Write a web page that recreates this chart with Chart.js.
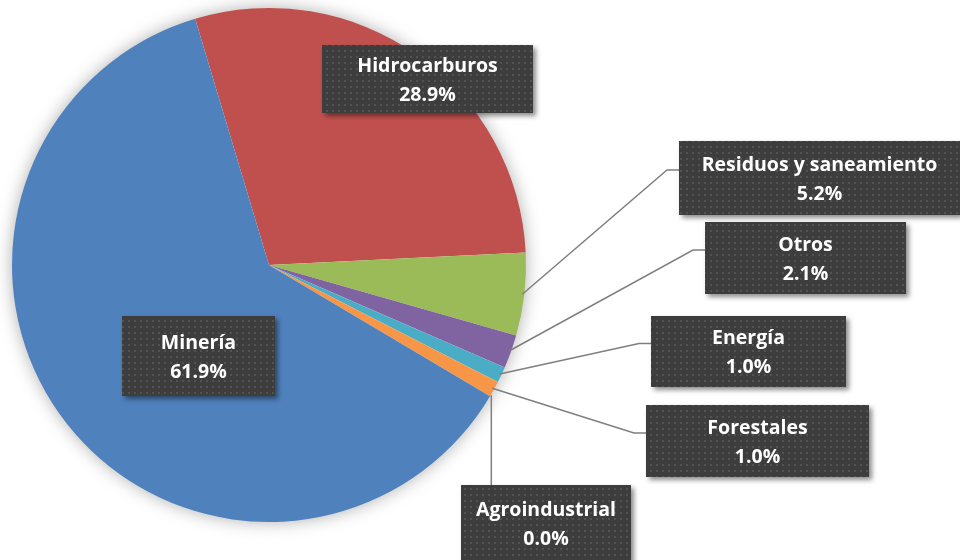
<!DOCTYPE html>
<html>
<head>
<meta charset="utf-8">
<script src="https://cdn.jsdelivr.net/npm/chart.js@4"></script>
<style>
  html, body { margin: 0; padding: 0; background: #fff; }
  #wrap { width: 960px; height: 560px; }
</style>
</head>
<body>
<div id="wrap"><canvas id="pieChart" width="960" height="560"></canvas></div>
<script>
const sectors = ["Hidrocarburos", "Residuos y saneamiento", "Otros", "Energía", "Forestales", "Agroindustrial", "Minería"];
const shares = [28.9, 5.2, 2.1, 1.0, 1.0, 0.0, 61.9];
const sliceColors = ['#C0504D', '#9BBB59', '#8064A2', '#4BACC6', '#F79646', '#F2C314', '#4F81BD'];

// label boxes placed by hand like in the original sheet: [x, y, w, h, leader]
const boxes = [
  [322, 45, 211, 68, 'none'],
  [679, 141, 281, 74, 'elbow'],
  [705, 222, 201, 72, 'elbow'],
  [651, 316, 195, 71, 'elbow'],
  [646, 405, 223, 72, 'elbow'],
  [461, 485, 170, 80, 'down'],
  [122, 316, 153, 80, 'none']
];

// dotted dark fill
function makePattern(ctx) {
  const p = document.createElement('canvas');
  p.width = 6; p.height = 6;
  const pc = p.getContext('2d');
  pc.fillStyle = '#3d3d3d';
  pc.fillRect(0, 0, 6, 6);
  pc.fillStyle = '#525252';
  pc.fillRect(2, 2, 2, 2);
  return ctx.createPattern(p, 'repeat');
}

const pieShadow = {
  id: 'pieShadow',
  beforeDatasetsDraw(chart) {
    const arc = chart.getDatasetMeta(0).data[0];
    const ctx = chart.ctx;
    ctx.save();
    ctx.shadowColor = 'rgba(0,0,0,0.35)';
    ctx.shadowBlur = 18;
    ctx.fillStyle = '#ffffff';
    ctx.beginPath();
    ctx.arc(arc.x, arc.y, arc.outerRadius - 1, 0, Math.PI * 2);
    ctx.fill();
    ctx.restore();
  }
};

const calloutLabels = {
  id: 'calloutLabels',
  afterDatasetsDraw(chart) {
    const ctx = chart.ctx;
    const meta = chart.getDatasetMeta(0);
    const pattern = makePattern(ctx);
    // leader lines first
    ctx.save();
    ctx.strokeStyle = '#7f7f7f';
    ctx.lineWidth = 1.5;
    meta.data.forEach((arc, i) => {
      const b = boxes[i];
      if (b[4] === 'none') return;
      const mid = (arc.startAngle + arc.endAngle) / 2;
      const r = arc.outerRadius - 2;
      let ax = arc.x + Math.cos(mid) * r;
      const ay = arc.y + Math.sin(mid) * r;
      ctx.beginPath();
      if (b[4] === 'elbow') {
        ctx.moveTo(ax, ay);
        const ey = b[1] + b[3] / 2 - 8;
        ctx.lineTo(b[0] - 12, ey);
        ctx.lineTo(b[0], ey);
      } else {
        ax += 3;
        ctx.moveTo(ax, ay);
        ctx.lineTo(ax, b[1]);
      }
      ctx.stroke();
    });
    ctx.restore();

    meta.data.forEach((arc, i) => {
      const b = boxes[i];
      ctx.save();
      ctx.shadowColor = 'rgba(0,0,0,0.45)';
      ctx.shadowBlur = 5;
      ctx.shadowOffsetX = 3;
      ctx.shadowOffsetY = 3;
      ctx.fillStyle = pattern;
      ctx.fillRect(b[0], b[1], b[2], b[3]);
      ctx.restore();

      ctx.save();
      ctx.fillStyle = '#ffffff';
      ctx.font = 'bold 19.5px "Open Sans", sans-serif';
      ctx.textAlign = 'center';
      ctx.textBaseline = 'middle';
      const cx = b[0] + b[2] / 2;
      const top = b[1] + (b[4] === 'down' ? 25 : b[3] / 2 - 13);
      ctx.fillText(sectors[i], cx, top);
      ctx.fillText(shares[i].toFixed(1) + '%', cx, top + 29);
      ctx.restore();
    });
  }
};

new Chart(document.getElementById('pieChart'), {
  type: 'pie',
  data: {
    labels: sectors,
    datasets: [{
      data: shares,
      backgroundColor: sliceColors,
      borderWidth: 0
    }]
  },
  options: {
    responsive: false,
    animation: false,
    rotation: -16.7,
    layout: { padding: { left: 12, right: 434, top: 8, bottom: 38 } },
    plugins: {
      legend: { display: false },
      tooltip: { enabled: false }
    }
  },
  plugins: [pieShadow, calloutLabels]
});
</script>
</body>
</html>
